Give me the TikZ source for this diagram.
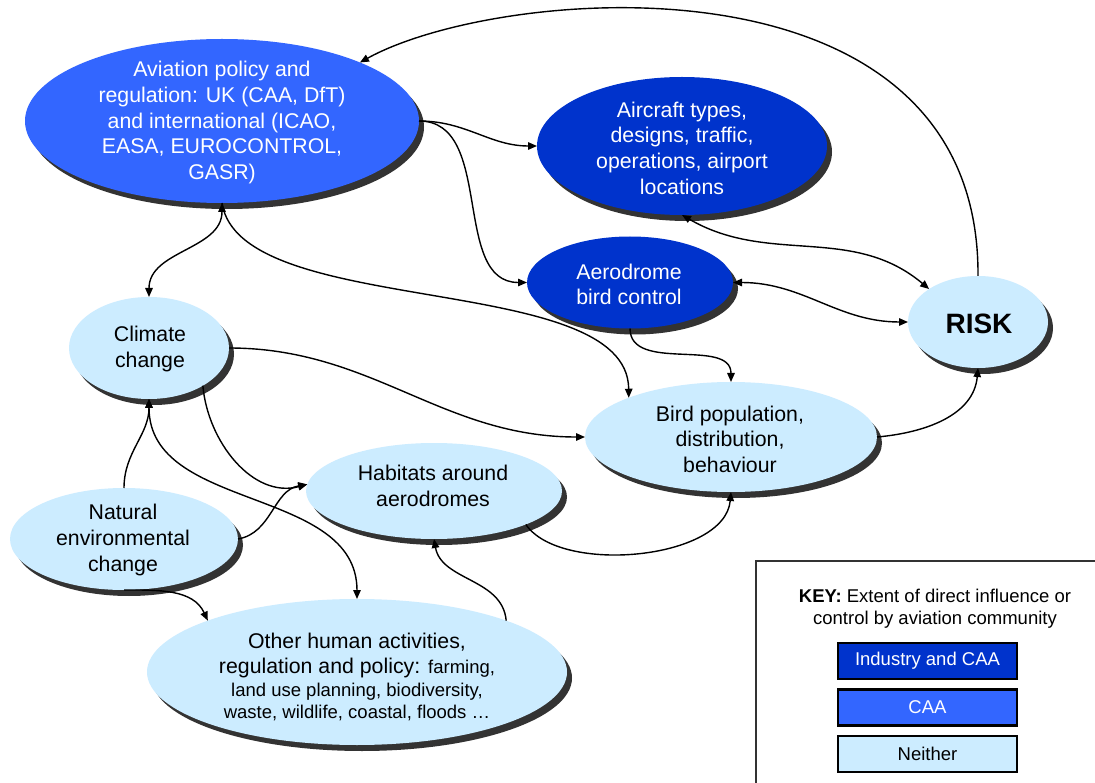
\documentclass[tikz,border=0pt]{standalone}
\usepackage{fontspec}
\setmainfont{Liberation Sans}
\usetikzlibrary{arrows.meta,shapes.geometric,shadows}
\definecolor{caa}{RGB}{51,102,255}
\definecolor{ind}{RGB}{0,51,204}
\definecolor{nei}{RGB}{204,236,255}
\definecolor{shd}{RGB}{51,51,51}
\begin{document}
\begin{tikzpicture}[x=1pt,y=-1pt,
  el/.style={ellipse, inner sep=0pt, outer sep=0pt, draw=none,
    drop shadow={shadow xshift=5pt, shadow yshift=-6pt, fill=shd, opacity=1}},
  txt/.style={align=center, inner sep=0pt, font=\fontsize{21.3}{25.6}\selectfont},
  wtxt/.style={txt, text=white},
  keybox/.style={draw=black, line width=2.5pt, minimum width=179pt, minimum height=36pt,
    inner sep=0pt, font=\fontsize{18.5}{22}\selectfont},
  conn/.style={line width=1.4pt, -{Triangle[length=9pt,width=7.5pt]}},
  biconn/.style={line width=1.4pt, {Triangle[length=9pt,width=7.5pt]}-{Triangle[length=9pt,width=7.5pt]}},
  plain/.style={line width=1.4pt}
]
\fill[white] (0,0) rectangle (1095,783);
\useasboundingbox (0,0) rectangle (1095,783);

% ellipses
\node[el, fill=caa, minimum width=394pt, minimum height=164pt] (av) at (222,121) {};
\node[el, fill=ind, minimum width=290pt, minimum height=138pt] (ac) at (682,146) {};
\node[el, fill=ind, minimum width=206pt, minimum height=92pt] (ae) at (630,282.5) {};
\node[el, fill=nei, minimum width=140pt, minimum height=92pt] (ri) at (978,322) {};
\node[el, fill=nei, minimum width=292pt, minimum height=110pt] (bp) at (731,437) {};
\node[el, fill=nei, minimum width=160pt, minimum height=102pt] (cc) at (149,348) {};
\node[el, fill=nei, minimum width=256pt, minimum height=96pt] (hb) at (434,491) {};
\node[el, fill=nei, minimum width=228pt, minimum height=102pt] (ne) at (124,539) {};
\node[el, fill=nei, minimum width=420pt, minimum height=146pt] (oh) at (357,672) {};

% texts
\node[wtxt] (avt) at (222,122.5) {Aviation policy and\\regulation: UK (CAA, DfT)\\and international (ICAO,\\EASA, EUROCONTROL,\\GASR)};
\node[wtxt] (act) at (682,148) {Aircraft types,\\designs, traffic,\\operations, airport\\locations};
\node[wtxt] (aet) at (629,284.5) {Aerodrome\\bird control};
\node[inner sep=0pt, font=\bfseries\fontsize{28}{30}\selectfont] (rit) at (979,324) {RISK};
\node[txt] (bpt) at (730,439) {Bird population,\\distribution,\\behaviour};
\node[txt] (cct) at (150,349) {Climate\\change};
\node[txt] (hbt) at (433,486) {Habitats around\\aerodromes};
\node[txt] (net) at (123,540) {Natural\\environmental\\change};
\node[txt] (oht) at (357,677) {Other human activities,\\regulation and policy: {\fontsize{18.5}{22}\selectfont farming,}\\[-3pt]
  {\fontsize{18.5}{22}\selectfont land use planning, biodiversity,}\\[-3pt]
  {\fontsize{18.5}{22}\selectfont waste, wildlife, coastal, floods \ldots}};

% connectors
\draw[conn] (ri.north) .. controls (980,-55) and (500,-15) .. (av.23);
\draw[conn] (av.east) to[out=0,in=180] (ac.west);
\draw[conn] (av.east) to[out=0,in=180] (ae.west);
\draw[biconn] (ac.south) to[out=-30,in=140] (ri.146);
\draw[biconn] (ae.east) to[out=0,in=180] (ri.west);
\draw[conn] (ae.south) to[out=-90,in=90] (bp.north);
\draw[biconn] (av.south) to[out=-90,in=90] (cc.north);
\draw[conn] (av.south) .. controls (240,320) and (628,270) .. (bp.159);
\draw[conn] (cc.east) to[out=0,in=180] (bp.west);
\draw[conn] (cc.-35) to[out=-85,in=195] (hb.177);
\draw[conn] (ne.north) to[out=90,in=-90] (cc.south);
\draw[biconn] (cc.south) to[out=-90,in=90] (oh.north);
\draw[conn] (ne.east) to[out=10,in=190] (hb.177);
\draw[conn] (oh.19) to[out=95,in=-80] (hb.south);
\draw[conn] (hb.-20) .. controls (560,575) and (725,560) .. (bp.south);
\draw[conn] (bp.east) to[out=5,in=-95] (ri.south);
\draw[conn] (ne.south) to[out=0,in=115] (oh.161);

% key
\draw[line width=1.5pt, draw=shd] (756,783) -- (756,561) -- (1095,561);
\node[align=center, inner sep=0pt, font=\fontsize{18.5}{22}\selectfont] (kt) at (935,609)
  {\textbf{KEY:} Extent of direct influence or\\control by aviation community};
\node[keybox, fill=ind, text=white] (k1) at (927.5,661) {Industry and CAA};
\node[keybox, fill=caa, text=white] (k2) at (927.5,707.5) {CAA};
\node[keybox, fill=nei, text=black] (k3) at (927.5,754) {Neither};
\end{tikzpicture}
\end{document}
